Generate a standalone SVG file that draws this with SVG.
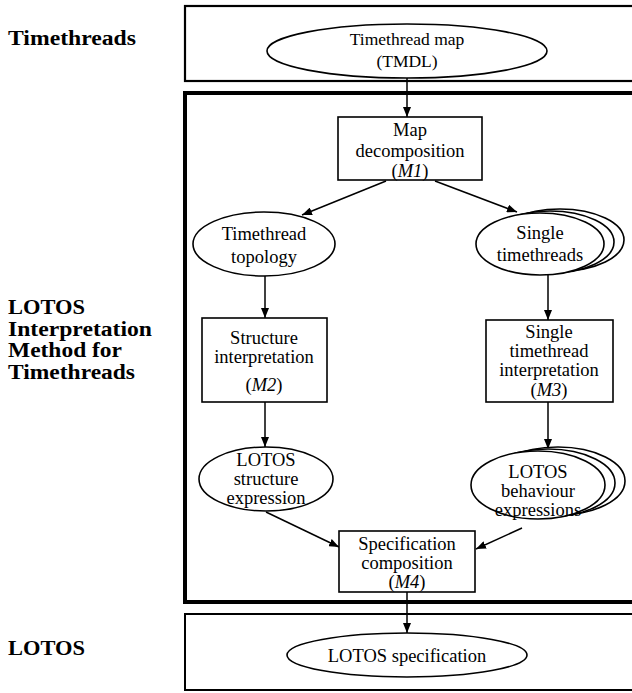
<svg xmlns="http://www.w3.org/2000/svg" width="632" height="693" viewBox="0 0 632 693">
<defs>
<style>
.t{font-family:"Liberation Serif","Times New Roman",serif;font-size:18.5px;fill:#000;text-anchor:middle}
.lab{font-family:"Liberation Serif","Times New Roman",serif;font-size:20.5px;font-weight:bold;fill:#000}
.n{fill:#fff;stroke:#000;stroke-width:1.6}
.e{stroke:#000;stroke-width:1.5;fill:none}
</style>
<marker id="ah" viewBox="0 0 10 8" refX="10" refY="4" markerWidth="10" markerHeight="8" markerUnits="userSpaceOnUse" orient="auto">
<path d="M0,0 L10,4 L0,8 Z" fill="#000"/>
</marker>
</defs>
<rect width="632" height="693" fill="#fff"/>

<g id="frames">
<rect x="185" y="6" width="460" height="75" fill="none" stroke="#000" stroke-width="2.2"/>
<rect x="185" y="93" width="460" height="509" fill="none" stroke="#000" stroke-width="4"/>
<rect x="185" y="614" width="460" height="76" fill="none" stroke="#000" stroke-width="2"/>
</g>

<g id="labels">
<text class="lab" x="8" y="45" textLength="128" lengthAdjust="spacingAndGlyphs">Timethreads</text>
<text class="lab" x="8" y="314" textLength="77" lengthAdjust="spacingAndGlyphs">LOTOS</text>
<text class="lab" x="8" y="335.5" textLength="144" lengthAdjust="spacingAndGlyphs">Interpretation</text>
<text class="lab" x="8" y="357" textLength="114" lengthAdjust="spacingAndGlyphs">Method for</text>
<text class="lab" x="8" y="378.5" textLength="127" lengthAdjust="spacingAndGlyphs">Timethreads</text>
<text class="lab" x="8" y="655" textLength="77" lengthAdjust="spacingAndGlyphs">LOTOS</text>
</g>

<g id="connectors">
<line class="e" x1="407" y1="78" x2="407" y2="117" marker-end="url(#ah)"/>
<line class="e" x1="386" y1="181" x2="302" y2="215" marker-end="url(#ah)"/>
<line class="e" x1="435" y1="181" x2="517" y2="212" marker-end="url(#ah)"/>
<line class="e" x1="265" y1="276" x2="265" y2="318" marker-end="url(#ah)"/>
<line class="e" x1="548" y1="275" x2="548" y2="320" marker-end="url(#ah)"/>
<line class="e" x1="265" y1="402" x2="265" y2="447" marker-end="url(#ah)"/>
<line class="e" x1="548" y1="402" x2="548" y2="449" marker-end="url(#ah)"/>
<line class="e" x1="266" y1="512" x2="339" y2="547" marker-end="url(#ah)"/>
<line class="e" x1="522" y1="528" x2="476" y2="549" marker-end="url(#ah)"/>
<line class="e" x1="407" y1="592" x2="407" y2="633" marker-end="url(#ah)"/>
</g>

<g id="tmdl">
<ellipse class="n" cx="407" cy="51" rx="140" ry="27"/>
<text class="t" style="font-size:17.5px" x="407" y="45">Timethread map</text>
<text class="t" style="font-size:17.5px" x="407" y="67">(TMDL)</text>
</g>

<g id="m1">
<rect class="n" x="338" y="117" width="144" height="63"/>
<text class="t" x="410" y="136">Map</text>
<text class="t" x="410" y="157">decomposition</text>
<text class="t" x="410" y="177">(<tspan font-style="italic">M1</tspan>)</text>
</g>

<g id="topology">
<ellipse class="n" cx="264" cy="244" rx="71" ry="32"/>
<text class="t" x="264" y="240">Timethread</text>
<text class="t" x="264" y="263">topology</text>
</g>

<g id="single">
<ellipse class="n" cx="560" cy="240" rx="64" ry="31"/>
<ellipse class="n" cx="550" cy="242" rx="64" ry="31"/>
<ellipse class="n" cx="540" cy="244" rx="64" ry="31"/>
<text class="t" x="540" y="239">Single</text>
<text class="t" x="540" y="261">timethreads</text>
</g>

<g id="m2">
<rect class="n" x="202" y="318" width="125" height="84"/>
<text class="t" x="264" y="344">Structure</text>
<text class="t" x="264" y="363">interpretation</text>
<text class="t" x="264" y="391">(<tspan font-style="italic">M2</tspan>)</text>
</g>

<g id="m3">
<rect class="n" x="486" y="320" width="127" height="82"/>
<text class="t" x="549" y="338">Single</text>
<text class="t" x="549" y="357">timethread</text>
<text class="t" x="549" y="376">interpretation</text>
<text class="t" x="549" y="396">(<tspan font-style="italic">M3</tspan>)</text>
</g>

<g id="structure">
<ellipse class="n" cx="266" cy="479" rx="67" ry="32"/>
<text class="t" x="266" y="466">LOTOS</text>
<text class="t" x="266" y="485">structure</text>
<text class="t" x="266" y="504">expression</text>
</g>

<g id="behaviour">
<ellipse class="n" cx="558" cy="481" rx="67" ry="34"/>
<ellipse class="n" cx="548" cy="483" rx="67" ry="34"/>
<ellipse class="n" cx="538" cy="485" rx="67" ry="34"/>
<text class="t" x="538" y="478">LOTOS</text>
<text class="t" x="538" y="497">behaviour</text>
<text class="t" x="538" y="516">expressions</text>
</g>

<g id="m4">
<rect class="n" x="339" y="531" width="136" height="61"/>
<text class="t" x="407" y="550">Specification</text>
<text class="t" x="407" y="569">composition</text>
<text class="t" x="407" y="588">(<tspan font-style="italic">M4</tspan>)</text>
</g>

<g id="spec">
<ellipse class="n" cx="407" cy="655" rx="120" ry="22"/>
<text class="t" x="407" y="662">LOTOS specification</text>
</g>
</svg>
